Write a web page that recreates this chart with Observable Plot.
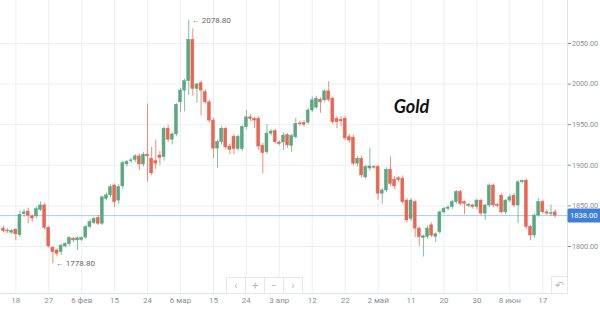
<!DOCTYPE html>
<html><head><meta charset="utf-8">
<script src="https://cdn.jsdelivr.net/npm/d3@7"></script>
<script src="https://cdn.jsdelivr.net/npm/@observablehq/plot@0.6"></script>
<style>
body{margin:0;background:#fff;font-family:Roboto,sans-serif}
#wrap{position:relative;width:600px;height:311px;overflow:hidden}
.nav{position:absolute;display:flex;border:1px solid #e4e7eb;background:#fff}
.nav span{width:18px;height:15px;display:flex;align-items:center;justify-content:center;color:#b5b9be;font-size:11px;border-right:1px solid #e4e7eb}
.nav span:last-child{border-right:none}
</style></head><body><div id="wrap"></div>
<script>
const candleOpen=[1822,1819.5,1817,1820.5,1814,1840,1843,1837,1837,1845,1850.5,1823,1798.5,1795,1793,1800,1803,1809.5,1807.5,1808,1811,1824,1829,1835,1828,1858.5,1863,1875,1856.5,1874,1901,1905,1906.5,1911,1901,1913,1908,1905,1912,1910,1945,1931.5,1938,1977.5,1992,2003.5,2054.5,1994,2001,1990,1977.5,1955,1920.5,1928.5,1945,1923,1935,1920,1920,1947,1959,1957,1957,1924,1916,1939,1942,1928,1928,1937,1924,1934.5,1951.5,1952,1952.5,1967.5,1971,1980.5,1980,1991,1982,1957,1956,1957.5,1934.5,1934,1902,1908,1885,1896,1898,1898,1865,1869,1894.5,1882,1884,1883.5,1856.5,1834,1854.5,1822,1810.5,1812,1826,1812,1817.5,1842,1846.5,1848.5,1854.5,1867,1854.5,1850,1850.5,1848.5,1856.5,1840.5,1850.5,1875,1851,1862.5,1842,1856.5,1862.5,1850.5,1879,1881,1824,1813.5,1838,1854.5,1842,1840,1842];
const candleHigh=[1825,1822,1821,1822,1844,1845,1847,1839,1849,1855,1853,1825,1800,1797,1803,1805,1812,1811,1812,1812,1826,1833,1836,1838,1862,1866,1876,1877,1876,1905,1906,1909,1913,1914,1916,1975.5,1922,1931,1917,1947,1949,1940,1976,1994.5,2006,2078.8,2068,2001,2004,1993,1980,1958,1931,1948,1947,1926,1938,1937,1949,1967.5,1962,1959,1960,1927,1950,1944,1944,1930,1940,1939,1938,1958,1954,1955,1970,1984,1985,1983,1993,2003,1984,1960,1960,1960,1938,1937,1911,1911,1900,1921,1900,1900,1871,1897,1910,1886,1886,1887,1859,1859,1857,1824,1814,1825,1829,1817,1844,1848,1850,1857,1869,1869,1856,1853,1852,1858,1858,1852,1877,1877,1853,1865,1858,1864,1865,1881,1882,1883,1826,1840,1859,1857,1845,1851,1845];
const candleLow=[1817,1816,1815,1807,1811,1836,1828,1830,1834,1843,1820,1798,1778.8,1787,1789,1798,1800,1805,1795,1806,1809,1822,1827,1826,1826,1856,1860,1848,1852,1870,1898,1902,1903,1893.5,1898,1879,1887,1895,1900,1905,1928,1925,1935,1965,1966,1986,1985,1976,1961,1975,1952,1908,1896,1925,1919,1913,1913,1917,1917,1944,1954,1945,1918,1889.5,1913,1936,1926,1924,1918,1921,1916,1932,1948,1947,1950,1965,1969,1964,1977,1978,1950,1945,1948,1930,1927,1899,1898,1884,1883,1893,1895,1857,1852,1866,1874,1870,1879,1852,1829,1831,1811,1800,1787,1809,1811,1805,1815,1840,1844,1846,1852,1850,1839,1848,1846,1845,1838,1832,1848,1848,1848,1840,1839,1854,1848,1828,1877,1821,1807,1810,1836,1840,1838,1837,1835];
const candleClose=[1819,1818.5,1819,1815,1839,1842,1838,1834.5,1846,1850.5,1823,1800,1793,1791,1801,1803,1810.5,1807.5,1810,1810.5,1824,1830,1834,1828,1860.5,1863,1873,1854.5,1873,1902.5,1904,1906,1911,1901,1913,1911,1890,1902,1909,1945,1931.5,1938,1974.5,1992,2003.5,2054.5,1994,1999.5,1992,1977.5,1955,1920.5,1928.5,1945,1922,1919,1920,1935,1947,1959,1957,1955,1923,1915,1939,1941.5,1928.5,1926,1936.5,1924.5,1936,1951,1950.5,1950,1967.5,1980,1982,1977.5,1991,1980.5,1953,1953,1954,1933,1930.5,1902,1908,1887.5,1898,1898.5,1897,1865,1869,1894.5,1877,1874,1882,1854.5,1832,1856.5,1822,1811.5,1812.5,1822,1813.5,1815,1842,1846.5,1848,1854.5,1867,1852.5,1852.5,1851.5,1848.5,1856.5,1840.5,1850.5,1875,1850.5,1850,1842,1856.5,1860.5,1850.5,1879,1880.5,1824,1813.5,1838,1854.5,1842,1840.5,1841,1838];
const xTickIndex=[3,11,19,27,35,43,51,59,67,75,83,91,99,107,115,123,131];
const xTickLabels=["18","27","6 фев","15","24","6 мар","15","24","3 апр","12","22","2 май","11","20","30","8 июн","17"];
const priceTicks=[1800,1850,1900,1950,2000,2050];
const lastPrice=1838;
const titleText="Gold";
const highMark={i:45,price:2078.8};
const lowMark={i:12,price:1778.8};
const xDomain=[-0.72,137];
const yDomain=[1742.1,2102.9];

const candles=candleOpen.map((o,i)=>({i,open:o,high:candleHigh[i],low:candleLow[i],close:candleClose[i]}));
const up="#5aa882", down="#ea6552";
const col=d=>d.close>=d.open?up:down;

const chart=Plot.plot({
  width:600,height:311,marginLeft:0,marginRight:33,marginTop:0,marginBottom:18,
  x:{type:"linear",domain:xDomain},
  y:{domain:yDomain},
  style:{fontFamily:"Roboto, sans-serif",background:"white"},
  marks:[
    Plot.gridX(xTickIndex,{stroke:"#eceff3",strokeOpacity:1}),
    Plot.gridY(priceTicks,{stroke:"#eceff3",strokeOpacity:1}),
    Plot.ruleY([lastPrice],{stroke:"#a9cbf1"}),
    Plot.ruleX(candles,{x:"i",y1:"low",y2:"high",stroke:col,strokeOpacity:0.75}),
    Plot.rect(candles,{x1:d=>d.i-0.36,x2:d=>d.i+0.36,y1:d=>Math.min(d.open,d.close),y2:d=>Math.max(d.open,d.close),fill:col,stroke:col,strokeWidth:0.5}),
    Plot.ruleY([yDomain[0]],{stroke:"#dde3ea"}),
    Plot.ruleX([xDomain[1]],{stroke:"#dde3ea"}),
    Plot.axisY(priceTicks,{anchor:"right",tickSize:3,tickPadding:1.5,tickFormat:d=>d.toFixed(2),fontSize:7.2,color:"#8c8f93",label:null}),
    Plot.axisX(xTickIndex,{anchor:"bottom",tickSize:0,tickPadding:4,tickFormat:d=>xTickLabels[xTickIndex.indexOf(d)],fontSize:8,color:"#8c8f93",label:null}),
    Plot.text([highMark],{x:"i",y:"price",text:d=>"← "+d.price.toFixed(2),textAnchor:"start",dx:3,fontSize:8,fill:"#666"}),
    Plot.text([lowMark],{x:"i",y:"price",text:d=>"← "+d.price.toFixed(2),textAnchor:"start",dx:3,fontSize:8,fill:"#666"}),
    Plot.text([titleText],{frameAnchor:"top-left",dx:411,dy:100,text:d=>d,fontSize:18,fontWeight:"bold",fontStyle:"italic",fontFamily:"Lato, 'Open Sans', sans-serif",fill:"#111",textAnchor:"middle"}),
    Plot.text([lastPrice],{x:xDomain[1],y:d=>d,text:d=>d.toFixed(2),textAnchor:"start",dx:2.5,fontSize:7.6,fill:"white"})
  ]
});
const wrap=document.getElementById("wrap");
wrap.appendChild(chart);
// blue background box for last price label
chart.querySelectorAll("text").forEach(t=>{
  if(t.textContent===lastPrice.toFixed(2)&&t.closest("g")&&t.getAttribute("fill")!==null||t.textContent===lastPrice.toFixed(2)){
    const b=t.getBBox();
    const r=document.createElementNS("http://www.w3.org/2000/svg","rect");
    r.setAttribute("x",b.x-2.5);r.setAttribute("y",b.y-2.5);
    r.setAttribute("width",b.width+12);r.setAttribute("height",b.height+5);
    r.setAttribute("fill","#3f80d6");r.setAttribute("rx",1.5);
    const tr=t.getAttribute("transform");
    if(tr) r.setAttribute("transform",tr);
    t.parentNode.insertBefore(r,t);
  }
});
// navigation controls
const nav=document.createElement("div");nav.className="nav";
nav.style.left="226px";nav.style.top="277px";
["‹","+","−","›"].forEach(s=>{const e=document.createElement("span");e.textContent=s;nav.appendChild(e);});
wrap.appendChild(nav);
const reset=document.createElement("div");reset.className="nav";
reset.style.left="551px";reset.style.top="276px";
const rs=document.createElement("span");rs.textContent="↶";rs.style.height="16px";rs.style.width="15px";reset.appendChild(rs);
wrap.appendChild(reset);
</script></body></html>
